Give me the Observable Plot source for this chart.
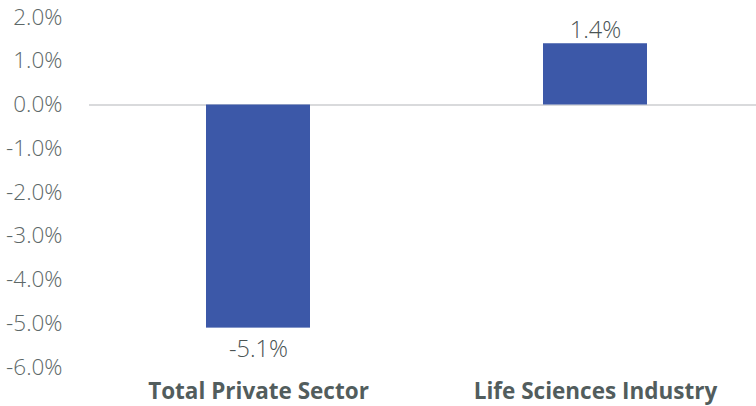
<!DOCTYPE html>
<html><head><meta charset="utf-8">
<script src="https://cdn.jsdelivr.net/npm/d3@7"></script>
<script src="https://cdn.jsdelivr.net/npm/@observablehq/plot@0.6"></script>
<style>
body{margin:0;background:#fff;}
svg{font-family:"Open Sans",sans-serif;}
</style>
</head><body>
<div id="chart"></div>
<script>
const categories = ["Total Private Sector", "Life Sciences Industry"];
const values = [-5.1, 1.4];
const yTicks = [2, 1, 0, -1, -2, -3, -4, -5, -6];

const data = categories.map((c, i) => ({category: c, value: values[i]}));
const fmt = v => v.toFixed(1) + "%";

const chart = Plot.plot({
  width: 756,
  height: 406,
  marginTop: 17,
  marginBottom: 39,
  marginLeft: 89,
  marginRight: 0,
  style: {fontFamily: "'Open Sans', sans-serif", background: "#fff"},
  x: {domain: categories, range: [89, 764], paddingInner: 0.69, paddingOuter: 0.345, label: null},
  y: {domain: [-6, 2], ticks: yTicks, label: null},
  marks: [
    Plot.ruleY([0], {stroke: "#d9dadc", strokeWidth: 2}),
    Plot.barY(data, {x: "category", y: "value", fill: "#3c58a8"}),
    Plot.text(data.filter(d => d.value < 0), {x: "category", y: "value", text: d => fmt(d.value),
      lineAnchor: "top", dy: 12, fontSize: 23.5, fontWeight: 300, fill: "#4a5353"}),
    Plot.text(data.filter(d => d.value >= 0), {x: "category", y: "value", text: d => fmt(d.value),
      lineAnchor: "bottom", dy: -6, fontSize: 23.5, fontWeight: 300, fill: "#4a5353"}),
    Plot.axisY({ticks: yTicks, tickSize: 0, tickPadding: 27, tickFormat: fmt,
      fontSize: 22.5, fontWeight: 300, fill: "#5d6868", label: null}),
    Plot.axisX({tickSize: 0, tickPadding: 16, fontSize: 22.5, fontWeight: "bold",
      fill: "#525d5d", label: null})
  ]
});
document.getElementById("chart").appendChild(chart);
</script>
</body></html>
